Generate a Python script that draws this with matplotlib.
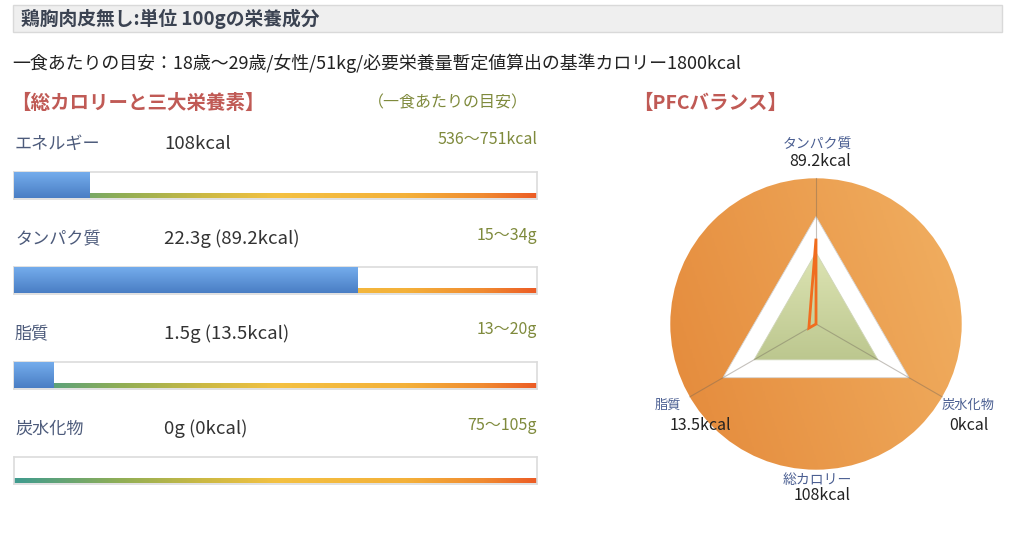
import numpy as np
import matplotlib
matplotlib.use("Agg")
import matplotlib.pyplot as plt
from matplotlib.colors import LinearSegmentedColormap
from matplotlib.patches import Circle, Polygon, Rectangle

plt.rcParams['font.family'] = ['Noto Sans CJK JP', 'DejaVu Sans']

# ---- data ----
title = "鶏胸肉皮無し:単位 100gの栄養成分"
basis = "一食あたりの目安：18歳〜29歳/女性/51kg/必要栄養量暫定値算出の基準カロリー1800kcal"

nutrients = ["エネルギー", "タンパク質", "脂質", "炭水化物"]
amounts = [108, 22.3, 1.5, 0]            # kcal, g, g, g
amount_text = ["108kcal", "22.3g (89.2kcal)", "1.5g (13.5kcal)", "0g (0kcal)"]
target_low = [536, 15, 13, 75]
target_high = [751, 34, 20, 105]
target_text = ["536〜751kcal", "15〜34g", "13〜20g", "75〜105g"]

# PFC radar: protein, carb, fat (grams per 100g and per-meal target)
pfc_names = ["タンパク質", "炭水化物", "脂質"]
pfc_kcal_text = ["89.2kcal", "0kcal", "13.5kcal"]
pfc_grams = [22.3, 0, 1.5]
pfc_low = [15, 75, 13]
pfc_high = [34, 105, 20]
total_kcal_text = "108kcal"

W, H = 1024, 536
fig = plt.figure(figsize=(W / 100, H / 100), dpi=100)
fig.patch.set_facecolor("white")


def px_rect(x0, y0, x1, y1):
    return [x0 / W, 1 - y1 / H, (x1 - x0) / W, (y1 - y0) / H]


bg = fig.add_axes([0, 0, 1, 1])
bg.set_xlim(0, W)
bg.set_ylim(H, 0)
bg.axis("off")
bg.set_zorder(10)   # texts on top of the radar
bg.patch.set_visible(False)

# header strip
bg.add_patch(Rectangle((13, 5), 989, 27, facecolor="#efefef", edgecolor="#d9d9d9", lw=1))
bg.text(21, 18.5, title, fontsize=13.5, fontweight="bold", color="#3b4352", va="center")
bg.text(12, 63, basis, fontsize=12.9, color="#222222", va="center")

heading_red = "#c05a55"
olive = "#7f8a3c"
bg.text(11, 103, "【総カロリーと三大栄養素】", fontsize=14, fontweight="bold", color=heading_red, va="center")
bg.text(368, 103, "（一食あたりの目安）", fontsize=11.5, color=olive, va="center")
bg.text(633, 103, "【PFCバランス】", fontsize=14, fontweight="bold", color=heading_red, va="center")

# ---- bars ----
line_cmap = LinearSegmentedColormap.from_list(
    "lvl", [(0, "#3f9b8f"), (0.2, "#8fae56"), (0.36, "#cbb944"), (0.5, "#f3c142"),
            (0.75, "#f4b13a"), (0.9, "#f08a31"), (1.0, "#ec5c25")])
blue_cmap = LinearSegmentedColormap.from_list("blue", ["#4a7ec4", "#74acec"])
line_grad = np.linspace(0, 1, 256).reshape(1, -1)
blue_grad = np.linspace(0, 1, 64).reshape(-1, 1)[::-1]

row_gap = 95
for i, name in enumerate(nutrients):
    ty = 144 + i * row_gap
    bg.text(15, ty, name, fontsize=12.3, color="#4d5b7b", va="center")
    bg.text(164, ty, amount_text[i], fontsize=13.4, color="#333333", va="center")
    bg.text(537, ty - 4, target_text[i], fontsize=11.5, color=olive, va="center", ha="right")

    top = 172 + i * row_gap
    ax = fig.add_axes(px_rect(14, top, 537, top + 27))
    ax.set_facecolor("white")
    ax.imshow(line_grad, extent=(0, target_high[i], 0.04, 0.2), aspect="auto", cmap=line_cmap, zorder=1)
    if amounts[i] > 0:
        bar = ax.barh(0.52, amounts[i], height=0.96, color="#5b8fd6", lw=0, zorder=2)[0]
        im = ax.imshow(blue_grad, extent=(0, amounts[i], 0.04, 1.0), aspect="auto", cmap=blue_cmap, zorder=3)
        im.set_clip_path(bar)
    ax.set_xlim(0, target_high[i])
    ax.set_ylim(0, 1)
    ax.set_xticks([])
    ax.set_yticks([])
    for sp in ax.spines.values():
        sp.set_color("#dcdcdc")
        sp.set_linewidth(1.2)


# ---- PFC radar ----
def score(v, lo, hi):
    # lower target -> 2, upper target -> 3
    if v < lo:
        return 2 * v / lo
    return 2 + (v - lo) / (hi - lo)


u = 35.8  # px per score unit
rax = fig.add_axes(px_rect(640, 130, 992, 518))
rax.axis("off")

angles = np.deg2rad([90, -30, 210])
R = 4.07

circ = Circle((0, 0), R, facecolor="none", edgecolor="none")
rax.add_patch(circ)
gx, gy = np.meshgrid(np.linspace(-1, 1, 200), np.linspace(1, -1, 200))
orange_cmap = LinearSegmentedColormap.from_list("org", ["#e4893a", "#f1b062"])
oim = rax.imshow(0.75 * gx + 0.25 * gy, extent=(-R, R, -R, R), cmap=orange_cmap, zorder=1)
oim.set_clip_path(circ)


def tri(r_list):
    return np.column_stack([np.array(r_list) * np.cos(angles), np.array(r_list) * np.sin(angles)])


white_tri = Polygon(tri([3, 3, 3]), closed=True, facecolor="white", edgecolor="#d4d4d4", lw=0.6, zorder=2)
rax.add_patch(white_tri)
green_tri = Polygon(tri([2, 2, 2]), closed=True, facecolor="none", edgecolor="#d0d6b8", lw=0.6, zorder=3)
rax.add_patch(green_tri)
green_cmap = LinearSegmentedColormap.from_list("grn", ["#bcc78f", "#dde4b3"])
gim = rax.imshow(np.linspace(0, 1, 100).reshape(-1, 1)[::-1], extent=(-2, 2, -1, 2), aspect="auto",
                 cmap=green_cmap, zorder=2.5)
gim.set_clip_path(green_tri)

for a in angles:
    rax.plot([0, R * np.cos(a)], [0, R * np.sin(a)], color="#6e6458", lw=0.8, alpha=0.4, zorder=4)

vals = [score(g, lo, hi) for g, lo, hi in zip(pfc_grams, pfc_low, pfc_high)]
rax.add_patch(Polygon(tri(vals), closed=True, facecolor="none", edgecolor="#f06d1f", lw=2, zorder=5))
rax.set_xlim(-176 / u, 176 / u)
rax.set_ylim(-194 / u, 194 / u)

label_blue = "#4b5f92"
bg.text(817, 145, pfc_names[0], fontsize=10, color=label_blue, ha="center", va="center")
bg.text(820, 161, pfc_kcal_text[0], fontsize=11.5, color="#222222", ha="center", va="center")
bg.text(968, 405, pfc_names[1], fontsize=9.5, color=label_blue, ha="center", va="center")
bg.text(969, 425, pfc_kcal_text[1], fontsize=11.5, color="#222222", ha="center", va="center")
bg.text(668, 405, pfc_names[2], fontsize=9.5, color=label_blue, ha="center", va="center")
bg.text(700, 425, pfc_kcal_text[2], fontsize=11.5, color="#222222", ha="center", va="center")
bg.text(817, 480, "総カロリー", fontsize=10, color=label_blue, ha="center", va="center")
bg.text(822, 496, total_kcal_text, fontsize=11.5, color="#222222", ha="center", va="center")

fig.savefig("out.png", dpi=100, facecolor="white")
